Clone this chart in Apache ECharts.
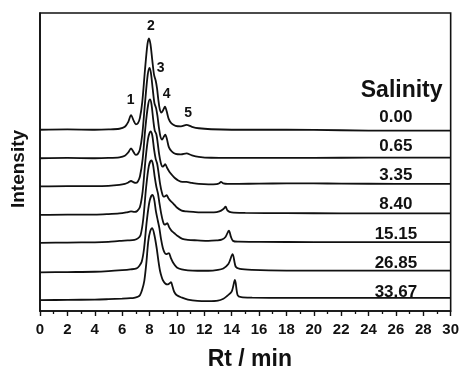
<!DOCTYPE html>
<html>
<head>
<meta charset="utf-8">
<script src="https://cdn.jsdelivr.net/npm/echarts@6/dist/echarts.min.js"></script>
<style>html,body{margin:0;padding:0;background:#fff;}#c{width:462px;height:376px;}</style>
</head>
<body>
<div id="c"></div>
<script>
// Salinity of each chromatogram (top to bottom)
const salinity = ['0.00', '0.65', '3.35', '8.40', '15.15', '26.85', '33.67'];
// Vertical offset of each trace baseline (intensity units)
const offsets = [184.3, 155.3, 126.7, 97.7, 69.3, 39.3, 11];
// Peak numbers annotated on the top trace
const peakNames = ['1', '2', '3', '4', '5'];
// X axis ticks
const xTicks = [0, 2, 4, 6, 8, 10, 12, 14, 16, 18, 20, 22, 24, 26, 28, 30];

// Traces: [retention time (min), intensity above baseline]
const trace000 = [[0,0],[2,0.3],[4,0],[5,0.3],[5.8,1],[6.2,3],[6.45,8],[6.65,14.8],[6.85,9],[7.0,5.5],[7.15,6.5],[7.3,12],[7.47,28],[7.67,61],[7.85,87],[7.96,93],[8.07,87],[8.2,71],[8.33,56],[8.45,50],[8.55,42],[8.64,31],[8.75,21],[8.86,17.5],[9.0,20],[9.13,23.5],[9.25,19],[9.4,11],[9.6,6.5],[9.9,4],[10.3,3.5],[10.7,5],[11.1,3],[11.6,1.5],[12.5,0.5],[14,0],[18,0],[22,-0.5],[26,-1],[30,-1]];
const trace065 = [[0,0],[2,0.3],[4,0],[5,0.3],[5.8,1],[6.2,2.5],[6.45,6],[6.65,10],[6.85,6],[7.0,3.5],[7.15,4.5],[7.3,9],[7.47,24],[7.67,56],[7.87,85],[8.0,92],[8.1,87],[8.23,71],[8.36,56],[8.48,51],[8.58,43],[8.68,32],[8.8,22],[8.92,19],[9.03,21.5],[9.15,24],[9.27,19.5],[9.42,11],[9.62,7],[9.9,4.5],[10.3,4],[10.7,5],[11.1,3],[11.6,1.5],[12.5,0.5],[14,0.3],[18,0.3],[22,0.5],[26,0.7],[30,0.7]];
const trace335 = [[0,0],[2,0.3],[4,0.3],[5,0.6],[5.8,1.5],[6.2,2.5],[6.45,4],[6.65,5.5],[6.85,4],[7.0,3.5],[7.15,5],[7.3,10],[7.5,28],[7.7,60],[7.9,83],[8.03,88.5],[8.14,84],[8.27,68],[8.38,57],[8.5,53],[8.6,44],[8.7,33],[8.82,24],[8.95,20],[9.05,21],[9.15,22.5],[9.28,19],[9.45,15],[9.62,12],[9.85,8.5],[10.1,6],[10.4,4.5],[10.7,4.5],[11.1,3.5],[11.6,2.5],[12.3,2],[12.9,2.2],[13.1,3.2],[13.22,4.6],[13.4,3],[13.7,2.5],[14.5,2.6],[16,2.8],[18,3],[20,3],[22,2.8],[26,2.6],[30,2.6]];
const trace840 = [[0,0],[2,0.3],[4,0.3],[5,0.8],[5.8,1.5],[6.3,2.5],[6.65,3.5],[6.9,3],[7.1,4],[7.3,8],[7.5,24],[7.7,55],[7.9,78],[8.08,85],[8.2,81],[8.33,67],[8.45,57],[8.56,52],[8.67,42],[8.78,31],[8.9,23],[9.03,18.5],[9.14,19],[9.25,20],[9.38,17],[9.55,14],[9.74,11.6],[10.0,7.5],[10.35,4.3],[10.7,3.5],[11.2,3],[12,2.5],[12.7,2.5],[13.1,3.5],[13.4,6],[13.56,8.3],[13.7,4.5],[14,2.5],[15,2],[18,1.8],[22,1.6],[26,1.6],[30,1.6]];
const trace1515 = [[0,0],[2,0.3],[4,0.5],[5,1],[5.8,2],[6.4,2.5],[6.9,3],[7.15,4.5],[7.35,8],[7.55,25],[7.75,56],[7.95,78],[8.13,83.7],[8.25,80],[8.38,67],[8.5,57],[8.62,50],[8.73,40],[8.85,30],[8.98,22],[9.1,18.5],[9.2,19],[9.3,20],[9.43,16],[9.6,12.5],[9.8,10],[10.05,7],[10.4,4],[10.8,3],[11.5,2.5],[12.3,2],[12.9,2.5],[13.27,3.2],[13.55,6],[13.8,12.4],[13.95,6],[14.1,2],[14.5,1.2],[16,1],[20,0.8],[26,0.7],[30,0.7]];
const trace2685 = [[0,0],[2,0.3],[4,0.6],[5,1.2],[6,2.2],[6.6,3],[7.06,4],[7.25,6.5],[7.43,10.7],[7.6,24],[7.8,52],[8.0,72],[8.2,78.7],[8.33,75],[8.47,62],[8.6,53],[8.72,45],[8.84,34],[8.97,25],[9.1,20],[9.22,18.5],[9.32,19],[9.42,19.5],[9.55,15],[9.74,9.5],[10.0,5],[10.35,3],[10.8,2],[11.5,1.6],[12.3,1.6],[13,2.5],[13.39,4],[13.76,8.4],[14.07,18.4],[14.3,5.7],[14.6,3.5],[15.5,2.5],[18,1.8],[22,1.7],[26,1.7],[30,1.7]];
const trace3367 = [[0,0],[2,0.3],[4,0.6],[5,1],[6,1.5],[6.6,2],[6.95,2.7],[7.15,3.5],[7.3,5],[7.45,10],[7.62,19.7],[7.77,38],[7.91,59.7],[8.05,70],[8.2,73.3],[8.36,66],[8.52,53.3],[8.65,40],[8.77,29.7],[8.9,23],[9.0,19.7],[9.15,17],[9.3,16],[9.45,17],[9.57,18.3],[9.68,14],[9.81,8.3],[10.0,5],[10.35,2.7],[10.8,0.5],[11.5,-0.8],[12.3,-1],[13,-0.5],[13.4,1.5],[13.64,4],[14.0,8.7],[14.24,20.5],[14.44,5],[14.7,3],[15.5,2.5],[18,2.3],[22,2.3],[26,2.3],[30,2.3]];
const traces = [trace000, trace065, trace335, trace840, trace1515, trace2685, trace3367];

const FONT = 'Liberation Sans, Arial, Helvetica, sans-serif';
const INK = '#111111';

const lineSeries = traces.map((t, i) => ({
  type: 'line',
  name: salinity[i],
  data: t.map(p => [p[0], offsets[i] + p[1]]),
  showSymbol: false,
  symbol: 'none',
  smooth: 0.3,
  lineStyle: { color: INK, width: 1.8 },
  silent: true,
  z: 2
}));

// Peak number annotations placed near the top trace
const peakLabelPos = [[6.63, 214], [8.11, 290], [8.82, 247], [9.26, 220], [10.83, 201]];
const peakSeries = {
  type: 'scatter',
  symbolSize: 0,
  silent: true,
  itemStyle: { opacity: 1 },
  data: peakNames.map((n, i) => ({ value: peakLabelPos[i], name: n })),
  label: { show: true, position: 'inside', formatter: p => p.name, opacity: 1,
           fontFamily: FONT, fontWeight: 'bold', fontSize: 14, color: INK },
  z: 5
};

// Salinity legend text
const salSeries = {
  type: 'scatter',
  symbolSize: 0,
  silent: true,
  itemStyle: { opacity: 1 },
  data: [{ value: [26.42, 224], name: 'Salinity',
           label: { fontSize: 23 } }]
        .concat(salinity.map((s, i) => ({ value: [26.0, 197 - 29.67 * i], name: s }))),
  label: { show: true, position: 'inside', formatter: p => p.name, opacity: 1,
           fontFamily: FONT, fontWeight: 'bold', fontSize: 17, color: INK },
  z: 5
};

const chart = echarts.init(document.getElementById('c'), null, { renderer: 'canvas' });
chart.setOption({
  animation: false,
  backgroundColor: '#fff',
  grid: { left: 40, right: 11, top: 13, bottom: 60, show: true,
          borderColor: INK, borderWidth: 1.6, backgroundColor: 'transparent' },
  xAxis: {
    type: 'value', min: 0, max: 30, interval: 2,
    name: 'Rt / min', nameLocation: 'middle', nameGap: 37,
    nameTextStyle: { fontFamily: FONT, fontWeight: 'bold', fontSize: 23, color: INK, padding: [0, 0, 0, 9] },
    axisLine: { show: true, lineStyle: { color: INK, width: 1.6 } },
    axisTick: { show: true, inside: false, length: 5, lineStyle: { color: INK, width: 1.4 } },
    minorTick: { show: true, splitNumber: 2, length: 3, lineStyle: { color: INK, width: 1.3 } },
    splitLine: { show: false },
    axisLabel: { margin: 11, fontFamily: FONT, fontWeight: 'bold', fontSize: 15, color: INK,
                 formatter: v => (xTicks.indexOf(v) >= 0 ? String(v) : '') }
  },
  yAxis: {
    type: 'value', min: 0, max: 303,
    name: 'Intensity', nameLocation: 'middle', nameGap: 12,
    nameTextStyle: { fontFamily: FONT, fontWeight: 'bold', fontSize: 19, color: INK, padding: [0, 14, 0, 0] },
    axisLine: { show: true, lineStyle: { color: INK, width: 1.6 } },
    axisTick: { show: false },
    axisLabel: { show: false },
    splitLine: { show: false }
  },
  series: lineSeries.concat([peakSeries, salSeries])
});
</script>
</body>
</html>
